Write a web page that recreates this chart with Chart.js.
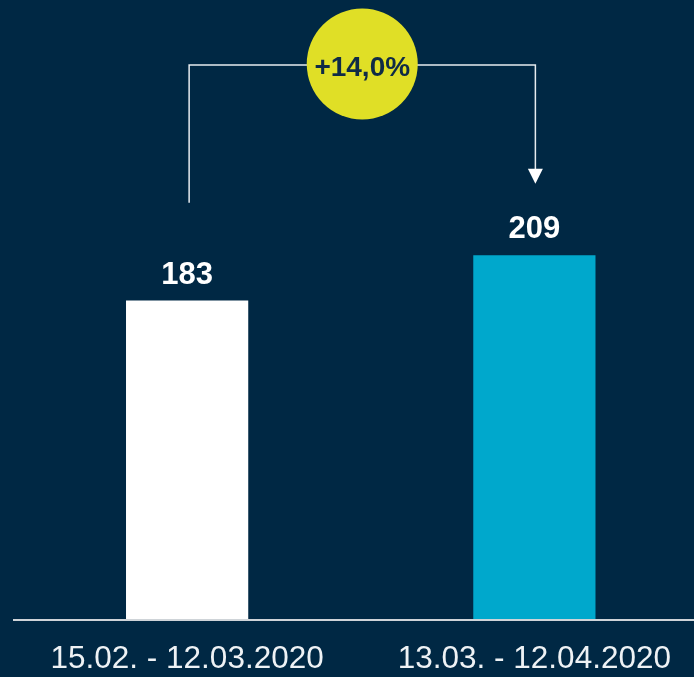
<!DOCTYPE html>
<html>
<head>
<meta charset="utf-8">
<title>Vergleich</title>
<script src="https://cdn.jsdelivr.net/npm/chart.js@4.4.1/dist/chart.umd.min.js"></script>
<style>
  html, body { margin: 0; padding: 0; background: #002844; overflow: hidden; }
  canvas { display: block; }
</style>
</head>
<body>
<canvas id="chart" width="708" height="677"></canvas>
<script>
// Zeiträume und Werte
const categories = ['15.02. - 12.03.2020', '13.03. - 12.04.2020'];
const values = [183, 209];
const barColors = ['#ffffff', '#00a8cc'];
const changeLabel = '+14,0%';

const BG = '#002844';
const TEXT = '#eef2f5';
const FONT = '"Liberation Sans", Arial, Helvetica, sans-serif';

// Grundlinie, Wertbeschriftung und Veränderungs-Pfeil
const overlay = {
  id: 'overlay',
  afterDatasetsDraw(chart){
    const {ctx, chartArea, scales: {x, y}} = chart;
    const meta = chart.getDatasetMeta(0);
    ctx.save();

    // Grundlinie
    ctx.strokeStyle = '#cfd4d8';
    ctx.lineWidth = 2;
    ctx.beginPath();
    ctx.moveTo(13, chartArea.bottom);
    ctx.lineTo(chart.width, chartArea.bottom);
    ctx.stroke();

    // Werte über den Balken
    ctx.fillStyle = '#ffffff';
    ctx.font = 'bold 31px ' + FONT;
    ctx.textAlign = 'center';
    ctx.textBaseline = 'alphabetic';
    meta.data.forEach((bar, i) => {
      ctx.fillText(String(values[i]), bar.x, bar.y - 17);
    });

    // Klammer mit Pfeil
    const x1 = x.getPixelForValue(0) + 2;
    const x2 = x.getPixelForValue(1) + 1;
    const yTop = y.getPixelForValue(318);
    const yLeft = y.getPixelForValue(239);
    const yTip = y.getPixelForValue(250);
    ctx.strokeStyle = '#e6ebef';
    ctx.lineWidth = 1.5;
    ctx.beginPath();
    ctx.moveTo(x1, yLeft);
    ctx.lineTo(x1, yTop);
    ctx.lineTo(x2, yTop);
    ctx.lineTo(x2, yTip - 12);
    ctx.stroke();
    ctx.fillStyle = '#ffffff';
    ctx.beginPath();
    ctx.moveTo(x2 - 7.5, yTip - 15);
    ctx.lineTo(x2 + 7.5, yTip - 15);
    ctx.lineTo(x2, yTip);
    ctx.closePath();
    ctx.fill();

    // Kreis mit Veränderung
    const cx = (x1 + x2) / 2;
    ctx.fillStyle = '#e0df26';
    ctx.beginPath();
    ctx.arc(cx, yTop - 1, 55.5, 0, Math.PI * 2);
    ctx.fill();
    ctx.fillStyle = '#0f2b46';
    ctx.font = 'bold 28px ' + FONT;
    ctx.textBaseline = 'alphabetic';
    ctx.fillText(changeLabel, cx, yTop + 11);

    ctx.restore();
  }
};

const ctx = document.getElementById('chart').getContext('2d');
new Chart(ctx, {
  type: 'bar',
  data: {
    labels: categories,
    datasets: [{
      data: values,
      backgroundColor: barColors,
      borderWidth: 0,
      barPercentage: 0.352,
      categoryPercentage: 1
    }]
  },
  options: {
    responsive: false,
    animation: false,
    layout: { padding: { left: 13.5, right: 0, top: 44, bottom: 0 } },
    plugins: { legend: { display: false }, tooltip: { enabled: false } },
    scales: {
      x: {
        grid: { display: false, drawTicks: false },
        border: { display: false },
        ticks: { color: TEXT, font: { family: FONT, size: 31.5 }, padding: 20.5, maxRotation: 0, autoSkip: false },
        afterFit(scale){ scale.height = 57; }
      },
      y: { display: false, min: 0, max: 330 }
    }
  },
  plugins: [{
    id: 'bg',
    beforeDraw(chart){
      const c = chart.ctx;
      c.save();
      c.fillStyle = BG;
      c.fillRect(0, 0, chart.width, chart.height);
      c.restore();
    }
  }, overlay]
});
</script>
</body>
</html>
